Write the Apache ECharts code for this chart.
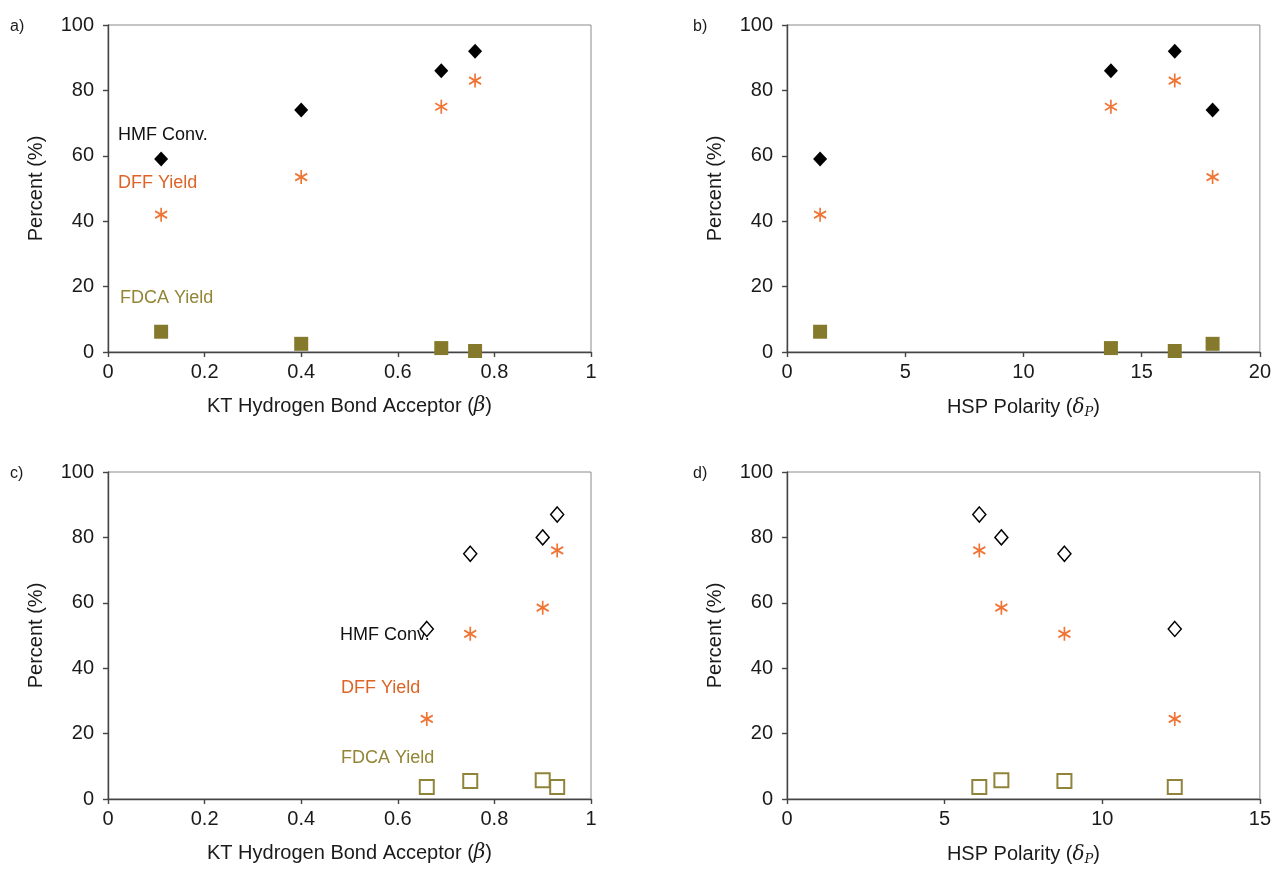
<!DOCTYPE html>
<html>
<head>
<meta charset="utf-8">
<script src="https://cdn.jsdelivr.net/npm/echarts@6/dist/echarts.min.js"></script>
<style>
html,body{margin:0;padding:0;background:#fff;}
#chart{width:1274px;height:872px;}
</style>
</head>
<body>
<div id="chart"></div>
<script>
// ---- Data ----
var betaA = [0.11, 0.40, 0.69, 0.76];
var deltaB = [1.4, 18.0, 13.7, 16.4];
var hmfAB = [59, 74, 86, 92];
var dffAB = [42, 53.5, 75, 83];
var fdcaAB = [6.2, 2.5, 1.2, 0.3];

var betaC = [0.66, 0.75, 0.90, 0.93];
var deltaD = [12.3, 8.8, 6.8, 6.1];
var hmfCD = [52, 75, 80, 87];
var dffCD = [24.5, 50.5, 58.5, 76];
var fdcaCD = [3.7, 5.5, 5.7, 3.7];

var yTicks = [0, 20, 40, 60, 80, 100];
var seriesNames = ['HMF Conv.', 'DFF Yield', 'FDCA Yield'];
var panelLabels = ['a)', 'b)', 'c)', 'd)'];

// ---- Styles ----
var FONT = 'Liberation Sans, Arial, sans-serif';
var ORANGE = '#F07434';
var OLIVE = '#857A2C';
var OLIVE_OPEN = '#8F843A';
var AST = 'path://M5,0L5,10M0.67,2.5L9.33,7.5M0.67,7.5L9.33,2.5';

function pairs(xs, ys) {
  return xs.map(function (x, i) { return [x, ys[i]]; });
}

var grids = [
  {left: 108, top: 25, width: 483, height: 327},
  {left: 787, top: 25, width: 473, height: 327},
  {left: 108, top: 472, width: 483, height: 327},
  {left: 787, top: 472, width: 473, height: 327}
].map(function (g) {
  return Object.assign({show: true, borderColor: '#8a8a8a', borderWidth: 1, backgroundColor: 'transparent'}, g);
});

var betaName = '{n|KT Hydrogen Bond Acceptor (}{i|β}{n|)}';
var deltaName = '{n|HSP Polarity (}{i|δ}{s|P}{n|)}';
var nameRich = {
  n: {fontSize: 20, fontFamily: FONT, color: '#1a1a1a'},
  i: {fontSize: 20, fontFamily: 'DejaVu Serif, serif', fontStyle: 'italic', color: '#1a1a1a'},
  s: {fontSize: 13, fontFamily: 'DejaVu Serif, serif', fontStyle: 'italic', color: '#1a1a1a', padding: [10, 0, 0, 0]}
};

var xCfg = [
  {max: 1, interval: 0.2, name: betaName},
  {max: 20, interval: 5, name: deltaName},
  {max: 1, interval: 0.2, name: betaName},
  {max: 15, interval: 5, name: deltaName}
];

var xAxes = xCfg.map(function (c, i) {
  return {
    type: 'value', gridIndex: i, min: 0, max: c.max, interval: c.interval,
    name: c.name, nameLocation: 'middle', nameGap: 44,
    nameTextStyle: {rich: nameRich},
    axisLine: {show: true, onZero: false, lineStyle: {color: '#444', width: 1.4}},
    axisTick: {show: true, inside: false, length: 5, lineStyle: {color: '#444', width: 1.4}},
    axisLabel: {fontSize: 20, fontFamily: FONT, color: '#1a1a1a', margin: 10,
      formatter: function (v) { return String(+v.toFixed(2)); }},
    splitLine: {show: false}
  };
});

var yAxes = [0, 1, 2, 3].map(function (i) {
  return {
    type: 'value', gridIndex: i, min: yTicks[0], max: yTicks[yTicks.length - 1], interval: yTicks[1] - yTicks[0],
    name: 'Percent (%)', nameLocation: 'middle', nameGap: 62,
    nameTextStyle: {fontSize: 20, fontFamily: FONT, color: '#1a1a1a'},
    axisLine: {show: true, onZero: false, lineStyle: {color: '#444', width: 1.4}},
    axisTick: {show: true, inside: false, length: 5, lineStyle: {color: '#444', width: 1.4}},
    axisLabel: {fontSize: 20, fontFamily: FONT, color: '#1a1a1a', margin: 14},
    splitLine: {show: false}
  };
});

function mk(idx, name, data, kind) {
  var s = {type: 'scatter', name: name, xAxisIndex: idx, yAxisIndex: idx, data: data, z: 5};
  if (kind === 'dia') {
    s.symbol = 'diamond'; s.symbolSize = [14, 15];
    s.itemStyle = {color: '#000', opacity: 1};
  } else if (kind === 'diaOpen') {
    s.symbol = 'diamond'; s.symbolSize = [13, 15];
    s.itemStyle = {color: '#fff', borderColor: '#000', borderWidth: 1.5, opacity: 1};
  } else if (kind === 'ast') {
    s.symbol = AST; s.symbolSize = [12, 14];
    s.itemStyle = {color: 'transparent', borderColor: ORANGE, borderWidth: 1.8, opacity: 1};
  } else if (kind === 'sq') {
    s.symbol = 'rect'; s.symbolSize = 14;
    s.itemStyle = {color: OLIVE, opacity: 1};
  } else if (kind === 'sqOpen') {
    s.symbol = 'rect'; s.symbolSize = 14;
    s.itemStyle = {color: '#fff', borderColor: OLIVE_OPEN, borderWidth: 2, opacity: 1};
  }
  return s;
}

var series = [
  mk(0, seriesNames[0], pairs(betaA, hmfAB), 'dia'),
  mk(0, seriesNames[1], pairs(betaA, dffAB), 'ast'),
  mk(0, seriesNames[2], pairs(betaA, fdcaAB), 'sq'),
  mk(1, seriesNames[0], pairs(deltaB, hmfAB), 'dia'),
  mk(1, seriesNames[1], pairs(deltaB, dffAB), 'ast'),
  mk(1, seriesNames[2], pairs(deltaB, fdcaAB), 'sq'),
  mk(2, seriesNames[0], pairs(betaC, hmfCD), 'diaOpen'),
  mk(2, seriesNames[1], pairs(betaC, dffCD), 'ast'),
  mk(2, seriesNames[2], pairs(betaC, fdcaCD), 'sqOpen'),
  mk(3, seriesNames[0], pairs(deltaD, hmfCD), 'diaOpen'),
  mk(3, seriesNames[1], pairs(deltaD, dffCD), 'ast'),
  mk(3, seriesNames[2], pairs(deltaD, fdcaCD), 'sqOpen')
];

function txt(x, y, s, color, size) {
  return {type: 'text', left: x, top: y, silent: true,
    style: {text: s, fill: color, fontSize: size, fontFamily: FONT}};
}

var graphic = [
  txt(10, 19, panelLabels[0], '#1a1a1a', 16),
  txt(693, 19, panelLabels[1], '#1a1a1a', 16),
  txt(10, 466, panelLabels[2], '#1a1a1a', 16),
  txt(693, 466, panelLabels[3], '#1a1a1a', 16),
  txt(118, 126, seriesNames[0], '#111', 18),
  txt(118, 174, seriesNames[1], '#DC6426', 18),
  txt(120, 289, seriesNames[2], '#928536', 18),
  txt(340, 626, seriesNames[0], '#111', 18),
  txt(341, 679, seriesNames[1], '#DC6426', 18),
  txt(341, 749, seriesNames[2], '#928536', 18)
];

var chart = echarts.init(document.getElementById('chart'), null, {renderer: 'canvas'});
chart.setOption({
  animation: false,
  backgroundColor: '#fff',
  grid: grids,
  xAxis: xAxes,
  yAxis: yAxes,
  series: series,
  graphic: graphic
});
</script>
</body>
</html>
